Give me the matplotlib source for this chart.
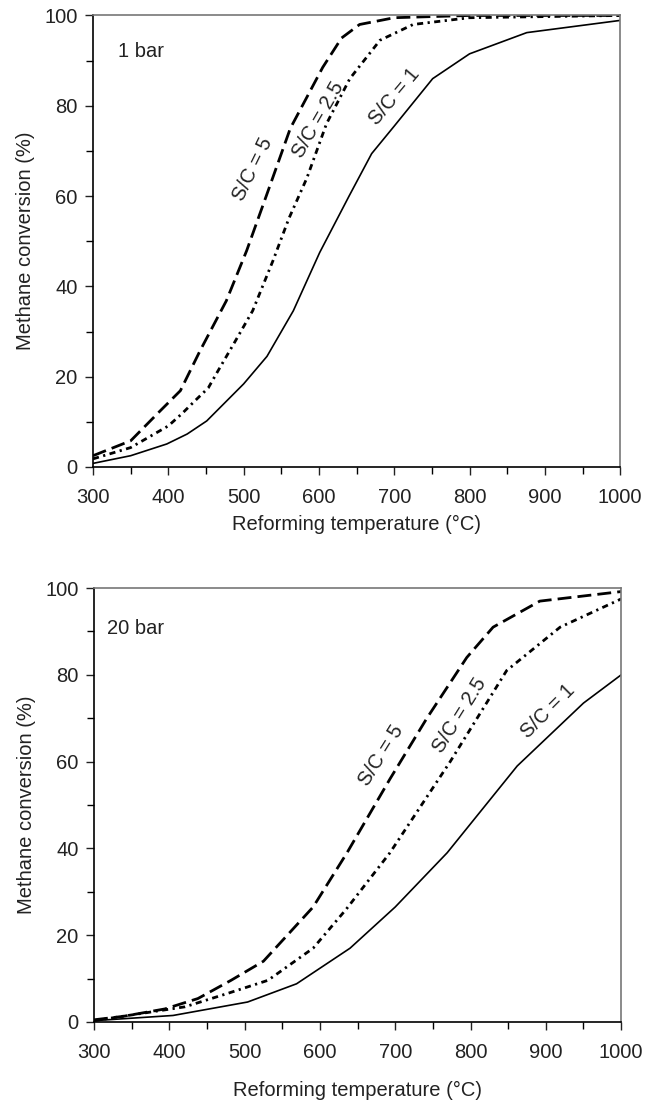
import numpy as np
import matplotlib.pyplot as plt
from matplotlib.ticker import MultipleLocator

plt.rcParams['font.family'] = ['Liberation Sans', 'DejaVu Sans']

# 1 bar
t1_sc1 = [300, 350, 398, 425, 451, 500, 531, 566, 601, 640, 670, 700, 751, 800, 876, 1000]
v1_sc1 = [0.8, 2.5, 5.1, 7.3, 10.2, 18.4, 24.5, 34.6, 47.5, 60, 69.4, 75.5, 86, 91.5, 96.2, 98.9]
t1_sc25 = [300, 350, 400, 418, 435, 453, 466, 489, 512, 539, 560, 584, 610, 641, 681, 725, 800, 1000]
v1_sc25 = [1.8, 4.3, 9.1, 11.8, 14.6, 17.5, 21.3, 27.9, 34.6, 45.7, 55, 64, 76, 86, 94.5, 98, 99.5, 100]
t1_sc5 = [300, 350, 389, 416, 442, 477, 504, 530, 562, 605, 630, 654, 700, 800, 1000]
v1_sc5 = [2.5, 5.8, 12.4, 16.9, 25.7, 36.8, 47.9, 60, 75, 88.5, 95, 98, 99.5, 100, 100]

# 20 bar
t20_sc1 = [300, 405, 504, 569, 640, 700, 769, 862, 950, 1000]
v20_sc1 = [0.3, 1.5, 4.6, 8.8, 17, 26.5, 39, 59, 73.5, 80]
t20_sc25 = [300, 421, 476, 531, 591, 635, 693, 773, 848, 919, 1000]
v20_sc25 = [0.3, 3.5, 6.5, 9.6, 17, 26, 39, 60, 81, 91, 97.5]
t20_sc5 = [300, 339, 394, 438, 482, 525, 591, 636, 693, 742, 795, 830, 892, 1000]
v20_sc5 = [0.5, 1.3, 3, 5.4, 9.6, 14, 26.5, 39, 56, 70, 84, 91, 97, 99.2]

fig = plt.figure(figsize=(6.46, 11.04), dpi=100)
ax1 = fig.add_axes([0.144, 0.577, 0.816, 0.409])
ax2 = fig.add_axes([0.1455, 0.0743, 0.816, 0.393])

long_dash = (0, (5, 2.2))
dash_dot = (0, (2.2, 1.6, 0.8, 1.6))
fs = 14.5
tc = '#222222'


def style_ax(ax, pad):
    ax.set_xlim(300, 1000)
    ax.set_ylim(0, 100)
    ax.xaxis.set_major_locator(MultipleLocator(100))
    ax.xaxis.set_minor_locator(MultipleLocator(50))
    ax.yaxis.set_major_locator(MultipleLocator(20))
    ax.yaxis.set_minor_locator(MultipleLocator(10))
    ax.tick_params(which='major', direction='out', length=6, width=1, labelsize=fs, colors=tc)
    ax.tick_params(axis='x', which='major', pad=9)
    ax.tick_params(axis='y', which='major', pad=5)
    ax.tick_params(which='minor', direction='out', length=5, width=1)
    for s in ['top', 'right']:
        ax.spines[s].set_color('#777777')
        ax.spines[s].set_linewidth(1.2)
    for s in ['left', 'bottom']:
        ax.spines[s].set_linewidth(1.2)
    ax.set_xlabel('Reforming temperature (°C)', fontsize=fs, labelpad=pad, color=tc)
    ax.set_ylabel('Methane conversion (%)', fontsize=fs, labelpad=7, color=tc)


ax1.plot(t1_sc1, v1_sc1, color='black', lw=1.2)
ax1.plot(t1_sc25, v1_sc25, color='black', lw=2, linestyle=dash_dot)
ax1.plot(t1_sc5, v1_sc5, color='black', lw=2, linestyle=long_dash)
style_ax(ax1, 6)
ax1.text(333, 92, '1 bar', fontsize=fs, va='center', color=tc)
ax1.text(512, 66, 'S/C = 5', rotation=64, fontsize=fs, ha='center', va='center', color=tc)
ax1.text(599, 77, 'S/C = 2.5', rotation=60, fontsize=fs, ha='center', va='center', color=tc)
ax1.text(700, 82, 'S/C = 1', rotation=50, fontsize=fs, ha='center', va='center', color=tc)

ax2.plot(t20_sc1, v20_sc1, color='black', lw=1.2)
ax2.plot(t20_sc25, v20_sc25, color='black', lw=2, linestyle=dash_dot)
ax2.plot(t20_sc5, v20_sc5, color='black', lw=2, linestyle=long_dash)
style_ax(ax2, 14)
ax2.text(317, 90.8, '20 bar', fontsize=fs, va='center', color=tc)
ax2.text(682, 61.5, 'S/C = 5', rotation=58, fontsize=fs, ha='center', va='center', color=tc)
ax2.text(786, 70.7, 'S/C = 2.5', rotation=58, fontsize=fs, ha='center', va='center', color=tc)
ax2.text(903, 71.7, 'S/C = 1', rotation=45, fontsize=fs, ha='center', va='center', color=tc)

fig.savefig('out.png', dpi=100)
